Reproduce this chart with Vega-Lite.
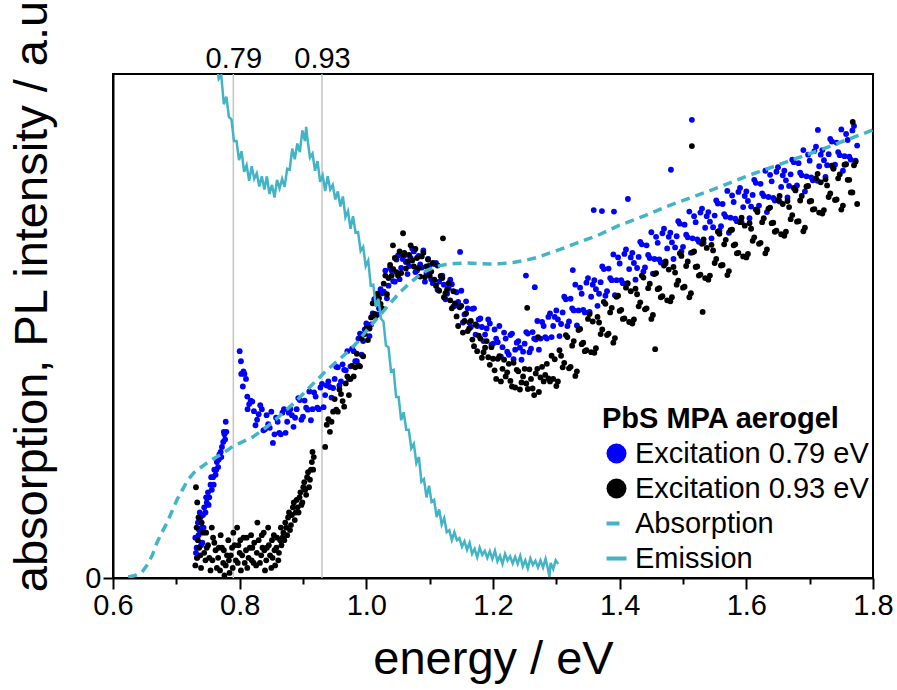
{
"$schema": "https://vega.github.io/schema/vega-lite/v6.json",
"width": 760, "height": 504,
"autosize": "none",
"padding": {"left": 113, "top": 74, "right": 24, "bottom": 112},
"background": "white",
"config": {"font": "Liberation Sans", "view": {"stroke": "black", "strokeWidth": 2}},
"datasets": {
"marks": [{"e": 0.79}, {"e": 0.93}],
"blue": [
{"e":0.730,"v":0.08},{"e":0.731,"v":0.05},{"e":0.732,"v":0.06},{"e":0.733,"v":0.04},{"e":0.734,"v":0.11},{"e":0.735,"v":0.085},{"e":0.736,"v":0.095},{"e":0.737,"v":0.13},{"e":0.738,"v":0.12},{"e":0.739,"v":0.065},{"e":0.740,"v":0.10},{"e":0.741,"v":0.07},{"e":0.742,"v":0.125},{"e":0.743,"v":0.1},{"e":0.744,"v":0.14},{"e":0.746,"v":0.13},{"e":0.747,"v":0.16},{"e":0.748,"v":0.15},{"e":0.750,"v":0.17},{"e":0.751,"v":0.145},{"e":0.752,"v":0.16},{"e":0.754,"v":0.185},{"e":0.755,"v":0.2},{"e":0.756,"v":0.175},{"e":0.758,"v":0.2},{"e":0.759,"v":0.185},{"e":0.760,"v":0.215},{"e":0.762,"v":0.205},{"e":0.763,"v":0.215},{"e":0.764,"v":0.23},{"e":0.766,"v":0.22},{"e":0.767,"v":0.235},{"e":0.768,"v":0.245},{"e":0.770,"v":0.25},{"e":0.771,"v":0.24},{"e":0.772,"v":0.26},{"e":0.774,"v":0.27},{"e":0.775,"v":0.29},{"e":0.776,"v":0.285},{"e":0.777,"v":0.275},{"e":0.778,"v":0.31},{"e":0.779,"v":0.29},
{"e":0.800,"v":0.45},{"e":0.802,"v":0.43},{"e":0.8025,"v":0.405},{"e":0.805,"v":0.38},{"e":0.806,"v":0.41},{"e":0.8075,"v":0.405},{"e":0.810,"v":0.395},{"e":0.812,"v":0.36},{"e":0.8125,"v":0.335},{"e":0.815,"v":0.345},{"e":0.8175,"v":0.352},{"e":0.820,"v":0.35},{"e":0.8225,"v":0.331},{"e":0.825,"v":0.303},{"e":0.8275,"v":0.314},{"e":0.830,"v":0.325},{"e":0.8325,"v":0.343},{"e":0.835,"v":0.335},{"e":0.8375,"v":0.293},{"e":0.840,"v":0.295},{"e":0.8425,"v":0.323},{"e":0.845,"v":0.305},{"e":0.8475,"v":0.298},{"e":0.850,"v":0.33},{"e":0.8525,"v":0.268},{"e":0.855,"v":0.285},{"e":0.8575,"v":0.318},{"e":0.860,"v":0.31},{"e":0.8625,"v":0.288},{"e":0.865,"v":0.285},{"e":0.8675,"v":0.328},{"e":0.870,"v":0.335},{"e":0.8725,"v":0.288},{"e":0.875,"v":0.31},{"e":0.8775,"v":0.328},{"e":0.880,"v":0.335},{"e":0.8825,"v":0.323},{"e":0.885,"v":0.30},{"e":0.8875,"v":0.318},{"e":0.890,"v":0.335},{"e":0.8925,"v":0.357},{"e":0.895,"v":0.353},{"e":0.8975,"v":0.314},{"e":0.900,"v":0.32},{"e":0.9025,"v":0.352},{"e":0.905,"v":0.338},{"e":0.9075,"v":0.334},{"e":0.910,"v":0.37},{"e":0.9125,"v":0.313},{"e":0.915,"v":0.335},{"e":0.9175,"v":0.368},{"e":0.920,"v":0.36},{"e":0.9225,"v":0.338},{"e":0.925,"v":0.335},{"e":0.9275,"v":0.378},{"e":0.930,"v":0.385},{"e":0.9325,"v":0.339},{"e":0.935,"v":0.363},{"e":0.9375,"v":0.382},{"e":0.940,"v":0.39},{"e":0.9425,"v":0.379},{"e":0.945,"v":0.358},{"e":0.9475,"v":0.377},{"e":0.950,"v":0.395},{"e":0.9525,"v":0.419},{"e":0.955,"v":0.418},{"e":0.9575,"v":0.382},{"e":0.960,"v":0.39},{"e":0.9625,"v":0.424},{"e":0.965,"v":0.413},{"e":0.9675,"v":0.412},{"e":0.970,"v":0.45},{"e":0.9725,"v":0.395},{"e":0.975,"v":0.42},{"e":0.9775,"v":0.455},{"e":0.980,"v":0.45},{"e":0.9825,"v":0.43},{"e":0.985,"v":0.43},{"e":0.9875,"v":0.475},{"e":0.990,"v":0.485},{"e":0.9925,"v":0.443},{"e":0.995,"v":0.47},{"e":0.9975,"v":0.493},
{"e":1.000,"v":0.505},{"e":1.0025,"v":0.498},{"e":1.005,"v":0.48},{"e":1.0075,"v":0.503},{"e":1.010,"v":0.525},{"e":1.0125,"v":0.553},{"e":1.015,"v":0.555},{"e":1.0175,"v":0.523},{"e":1.020,"v":0.535},{"e":1.0225,"v":0.573},{"e":1.025,"v":0.565},{"e":1.0275,"v":0.568},{"e":1.030,"v":0.61},{"e":1.0325,"v":0.555},{"e":1.035,"v":0.58},{"e":1.0375,"v":0.615},{"e":1.040,"v":0.61},{"e":1.0425,"v":0.589},{"e":1.045,"v":0.588},{"e":1.0475,"v":0.632},{"e":1.050,"v":0.64},{"e":1.0525,"v":0.593},{"e":1.055,"v":0.615},{"e":1.0575,"v":0.633},{"e":1.060,"v":0.64},{"e":1.0625,"v":0.627},{"e":1.065,"v":0.603},{"e":1.0675,"v":0.619},{"e":1.070,"v":0.635},{"e":1.0725,"v":0.654},{"e":1.075,"v":0.648},{"e":1.0775,"v":0.607},{"e":1.080,"v":0.61},{"e":1.0825,"v":0.639},{"e":1.085,"v":0.622},{"e":1.0875,"v":0.616},{"e":1.090,"v":0.65},{"e":1.0925,"v":0.588},{"e":1.095,"v":0.605},{"e":1.0975,"v":0.633},{"e":1.100,"v":0.62},{"e":1.1025,"v":0.593},{"e":1.105,"v":0.585},{"e":1.1075,"v":0.623},{"e":1.110,"v":0.625},{"e":1.1125,"v":0.572},{"e":1.115,"v":0.588},{"e":1.1175,"v":0.599},{"e":1.120,"v":0.60},{"e":1.1225,"v":0.582},{"e":1.125,"v":0.553},{"e":1.1275,"v":0.564},{"e":1.130,"v":0.575},{"e":1.1325,"v":0.592},{"e":1.135,"v":0.583},{"e":1.1375,"v":0.539},{"e":1.140,"v":0.54},{"e":1.1425,"v":0.567},{"e":1.145,"v":0.548},{"e":1.1475,"v":0.539},{"e":1.148,"v":0.647},{"e":1.150,"v":0.57},{"e":1.1525,"v":0.507},{"e":1.155,"v":0.523},{"e":1.1575,"v":0.549},{"e":1.160,"v":0.535},{"e":1.1625,"v":0.507},{"e":1.165,"v":0.498},{"e":1.1675,"v":0.534},{"e":1.170,"v":0.535},{"e":1.1725,"v":0.483},{"e":1.175,"v":0.50},{"e":1.1775,"v":0.513},{"e":1.180,"v":0.515},{"e":1.1825,"v":0.498},{"e":1.185,"v":0.47},{"e":1.1875,"v":0.483},{"e":1.190,"v":0.495},{"e":1.1925,"v":0.513},{"e":1.195,"v":0.505},{"e":1.1975,"v":0.463},
{"e":1.200,"v":0.465},{"e":1.2025,"v":0.493},{"e":1.205,"v":0.475},{"e":1.2075,"v":0.468},{"e":1.210,"v":0.50},{"e":1.2125,"v":0.439},{"e":1.215,"v":0.458},{"e":1.2175,"v":0.487},{"e":1.220,"v":0.475},{"e":1.2225,"v":0.449},{"e":1.225,"v":0.443},{"e":1.2275,"v":0.482},{"e":1.230,"v":0.485},{"e":1.2325,"v":0.434},{"e":1.235,"v":0.453},{"e":1.2375,"v":0.467},{"e":1.240,"v":0.47},{"e":1.2425,"v":0.457},{"e":1.245,"v":0.433},{"e":1.2475,"v":0.449},{"e":1.250,"v":0.465},{"e":1.252,"v":0.60},{"e":1.2525,"v":0.488},{"e":1.255,"v":0.485},{"e":1.2575,"v":0.448},{"e":1.260,"v":0.455},{"e":1.2625,"v":0.488},{"e":1.265,"v":0.475},{"e":1.266,"v":0.577},{"e":1.2675,"v":0.473},{"e":1.270,"v":0.51},{"e":1.2725,"v":0.453},{"e":1.275,"v":0.475},{"e":1.2775,"v":0.508},{"e":1.280,"v":0.50},{"e":1.2825,"v":0.478},{"e":1.285,"v":0.475},{"e":1.2875,"v":0.518},{"e":1.290,"v":0.525},{"e":1.2925,"v":0.478},{"e":1.295,"v":0.50},{"e":1.2975,"v":0.518},
{"e":1.300,"v":0.531},{"e":1.3025,"v":0.513},{"e":1.305,"v":0.48},{"e":1.3075,"v":0.504},{"e":1.310,"v":0.527},{"e":1.3125,"v":0.558},{"e":1.315,"v":0.553},{"e":1.3175,"v":0.50},{"e":1.320,"v":0.509},{"e":1.3225,"v":0.554},{"e":1.325,"v":0.535},{"e":1.326,"v":0.611},{"e":1.3275,"v":0.531},{"e":1.330,"v":0.582},{"e":1.3325,"v":0.501},{"e":1.335,"v":0.531},{"e":1.3375,"v":0.576},{"e":1.340,"v":0.564},{"e":1.3425,"v":0.532},{"e":1.345,"v":0.527},{"e":1.3475,"v":0.586},{"e":1.350,"v":0.595},{"e":1.3525,"v":0.528},{"e":1.355,"v":0.558},{"e":1.3575,"v":0.582},{"e":1.359,"v":0.73},{"e":1.360,"v":0.591},{"e":1.3625,"v":0.573},{"e":1.365,"v":0.54},{"e":1.3675,"v":0.564},{"e":1.370,"v":0.587},{"e":1.372,"v":0.728},{"e":1.3725,"v":0.618},{"e":1.375,"v":0.613},{"e":1.3775,"v":0.56},{"e":1.380,"v":0.569},{"e":1.3825,"v":0.614},{"e":1.385,"v":0.595},{"e":1.3875,"v":0.591},{"e":1.390,"v":0.642},{"e":1.391,"v":0.727},{"e":1.3925,"v":0.561},{"e":1.395,"v":0.591},{"e":1.3975,"v":0.636},
{"e":1.400,"v":0.624},{"e":1.4025,"v":0.591},{"e":1.405,"v":0.585},{"e":1.4075,"v":0.643},{"e":1.410,"v":0.652},{"e":1.4125,"v":0.584},{"e":1.413,"v":0.752},{"e":1.415,"v":0.613},{"e":1.4175,"v":0.636},{"e":1.420,"v":0.645},{"e":1.4225,"v":0.625},{"e":1.425,"v":0.592},{"e":1.4275,"v":0.615},{"e":1.430,"v":0.637},{"e":1.4325,"v":0.667},{"e":1.435,"v":0.662},{"e":1.4375,"v":0.608},{"e":1.440,"v":0.616},{"e":1.4425,"v":0.66},{"e":1.445,"v":0.641},{"e":1.4475,"v":0.635},{"e":1.450,"v":0.686},{"e":1.4525,"v":0.604},{"e":1.455,"v":0.633},{"e":1.4575,"v":0.677},{"e":1.460,"v":0.665},{"e":1.4625,"v":0.632},{"e":1.465,"v":0.626},{"e":1.4675,"v":0.684},{"e":1.470,"v":0.693},{"e":1.4725,"v":0.624},{"e":1.475,"v":0.654},{"e":1.4775,"v":0.677},{"e":1.480,"v":0.685},{"e":1.481,"v":0.81},{"e":1.4825,"v":0.666},{"e":1.485,"v":0.633},{"e":1.4875,"v":0.656},{"e":1.490,"v":0.678},{"e":1.4925,"v":0.708},{"e":1.495,"v":0.703},{"e":1.4975,"v":0.648},
{"e":1.500,"v":0.657},{"e":1.5025,"v":0.701},{"e":1.505,"v":0.681},{"e":1.5075,"v":0.676},{"e":1.510,"v":0.727},{"e":1.5125,"v":0.645},{"e":1.514,"v":0.909},{"e":1.515,"v":0.674},{"e":1.5175,"v":0.718},{"e":1.520,"v":0.706},{"e":1.5225,"v":0.672},{"e":1.525,"v":0.667},{"e":1.5275,"v":0.725},{"e":1.530,"v":0.733},{"e":1.5325,"v":0.665},{"e":1.535,"v":0.695},{"e":1.5375,"v":0.718},{"e":1.540,"v":0.726},{"e":1.5425,"v":0.707},{"e":1.545,"v":0.674},{"e":1.5475,"v":0.696},{"e":1.550,"v":0.719},{"e":1.5525,"v":0.749},{"e":1.555,"v":0.743},{"e":1.5575,"v":0.689},{"e":1.560,"v":0.698},{"e":1.5625,"v":0.742},{"e":1.565,"v":0.722},{"e":1.5675,"v":0.717},{"e":1.570,"v":0.768},{"e":1.5725,"v":0.685},{"e":1.575,"v":0.715},{"e":1.5775,"v":0.759},{"e":1.580,"v":0.746},{"e":1.5825,"v":0.713},{"e":1.585,"v":0.708},{"e":1.5875,"v":0.766},{"e":1.590,"v":0.774},{"e":1.5925,"v":0.706},{"e":1.595,"v":0.736},{"e":1.5975,"v":0.758},
{"e":1.600,"v":0.767},{"e":1.6025,"v":0.748},{"e":1.605,"v":0.714},{"e":1.6075,"v":0.737},{"e":1.610,"v":0.76},{"e":1.6125,"v":0.79},{"e":1.615,"v":0.784},{"e":1.6175,"v":0.73},{"e":1.620,"v":0.739},{"e":1.6225,"v":0.782},{"e":1.625,"v":0.763},{"e":1.6275,"v":0.758},{"e":1.630,"v":0.808},{"e":1.6325,"v":0.726},{"e":1.635,"v":0.756},{"e":1.6375,"v":0.80},{"e":1.640,"v":0.787},{"e":1.6425,"v":0.754},{"e":1.645,"v":0.749},{"e":1.6475,"v":0.806},{"e":1.650,"v":0.815},{"e":1.6525,"v":0.747},{"e":1.655,"v":0.776},{"e":1.6575,"v":0.799},{"e":1.660,"v":0.808},{"e":1.6625,"v":0.789},{"e":1.665,"v":0.755},{"e":1.6675,"v":0.778},{"e":1.670,"v":0.801},{"e":1.6725,"v":0.83},{"e":1.675,"v":0.825},{"e":1.6775,"v":0.771},{"e":1.680,"v":0.779},{"e":1.6825,"v":0.823},{"e":1.685,"v":0.804},{"e":1.6875,"v":0.799},{"e":1.690,"v":0.849},{"e":1.6925,"v":0.767},{"e":1.695,"v":0.797},{"e":1.6975,"v":0.84},
{"e":1.700,"v":0.828},{"e":1.7025,"v":0.795},{"e":1.705,"v":0.789},{"e":1.7075,"v":0.847},{"e":1.710,"v":0.856},{"e":1.7125,"v":0.788},{"e":1.713,"v":0.889},{"e":1.715,"v":0.817},{"e":1.7175,"v":0.84},{"e":1.720,"v":0.849},{"e":1.7225,"v":0.829},{"e":1.725,"v":0.796},{"e":1.7275,"v":0.819},{"e":1.730,"v":0.841},{"e":1.7325,"v":0.871},{"e":1.735,"v":0.866},{"e":1.7375,"v":0.812},{"e":1.740,"v":0.82},{"e":1.7425,"v":0.864},{"e":1.745,"v":0.845},{"e":1.7475,"v":0.839},{"e":1.750,"v":0.89},{"e":1.7525,"v":0.808},{"e":1.755,"v":0.837},{"e":1.7575,"v":0.881},{"e":1.760,"v":0.869},{"e":1.7625,"v":0.836},{"e":1.765,"v":0.83},{"e":1.7675,"v":0.888},{"e":1.770,"v":0.897},{"e":1.7725,"v":0.828},{"e":1.775,"v":0.858}
],
"black": [
{"e":0.730,"v":0.025},{"e":0.731,"v":0.18},{"e":0.732,"v":0.10},{"e":0.7325,"v":0.04},{"e":0.733,"v":0.15},{"e":0.734,"v":0.075},{"e":0.735,"v":0.12},{"e":0.736,"v":0.06},{"e":0.738,"v":0.045},{"e":0.739,"v":0.02},{"e":0.740,"v":0.11},{"e":0.742,"v":0.09},{"e":0.744,"v":0.05},{"e":0.746,"v":0.035},{"e":0.747,"v":0.09},{"e":0.748,"v":0.06},{"e":0.750,"v":0.065},{"e":0.752,"v":0.04},{"e":0.754,"v":0.015},{"e":0.756,"v":0.10},{"e":0.757,"v":0.035},{"e":0.758,"v":0.08},{"e":0.760,"v":0.07},{"e":0.762,"v":0.055},{"e":0.764,"v":0.02},{"e":0.766,"v":0.04},{"e":0.767,"v":0.06},{"e":0.769,"v":0.015},{"e":0.770,"v":0.085},{"e":0.772,"v":0.06},{"e":0.774,"v":0.03},{"e":0.775,"v":0.055},{"e":0.776,"v":0.005},{"e":0.778,"v":0.025},{"e":0.780,"v":0.045},{"e":0.782,"v":0.075},{"e":0.783,"v":0.035},{"e":0.784,"v":0.01},{"e":0.786,"v":0.045},{"e":0.788,"v":0.06},{"e":0.789,"v":0.02},{"e":0.790,"v":0.09},{"e":0.792,"v":0.065},{"e":0.794,"v":0.035},{"e":0.796,"v":0.10},{"e":0.797,"v":0.03},{"e":0.798,"v":0.065},{"e":0.800,"v":0.05},{"e":0.801,"v":0.075},{"e":0.802,"v":0.015},{"e":0.804,"v":0.045},{"e":0.806,"v":0.08},{"e":0.808,"v":0.03},{"e":0.810,"v":0.055},{"e":0.811,"v":0.08},{"e":0.812,"v":0.02},{"e":0.814,"v":0.04},{"e":0.816,"v":0.06},{"e":0.818,"v":0.085},{"e":0.819,"v":0.035},{"e":0.820,"v":0.06},{"e":0.822,"v":0.03},{"e":0.823,"v":0.07},{"e":0.826,"v":0.025},{"e":0.827,"v":0.05},{"e":0.828,"v":0.11},{"e":0.830,"v":0.075},{"e":0.832,"v":0.03},{"e":0.834,"v":0.045},{"e":0.835,"v":0.085},{"e":0.836,"v":0.06},{"e":0.838,"v":0.09},{"e":0.839,"v":0.055},{"e":0.840,"v":0.015},{"e":0.842,"v":0.035},{"e":0.843,"v":0.06},{"e":0.845,"v":0.10},{"e":0.846,"v":0.065},{"e":0.848,"v":0.045},{"e":0.850,"v":0.02},{"e":0.851,"v":0.075},{"e":0.852,"v":0.04},{"e":0.854,"v":0.085},{"e":0.855,"v":0.055},{"e":0.856,"v":0.025},{"e":0.858,"v":0.06},{"e":0.859,"v":0.08},{"e":0.861,"v":0.035},{"e":0.862,"v":0.05},{"e":0.864,"v":0.075},
{"e":0.865,"v":0.10},{"e":0.866,"v":0.065},{"e":0.8675,"v":0.08},{"e":0.869,"v":0.09},{"e":0.8705,"v":0.075},{"e":0.872,"v":0.11},{"e":0.8735,"v":0.10},{"e":0.875,"v":0.085},{"e":0.8765,"v":0.12},{"e":0.878,"v":0.13},{"e":0.8795,"v":0.095},{"e":0.881,"v":0.105},{"e":0.8825,"v":0.125},{"e":0.884,"v":0.14},{"e":0.8855,"v":0.15},{"e":0.887,"v":0.115},{"e":0.8885,"v":0.13},{"e":0.890,"v":0.155},{"e":0.8915,"v":0.14},{"e":0.893,"v":0.13},{"e":0.8945,"v":0.16},{"e":0.896,"v":0.17},{"e":0.8975,"v":0.145},{"e":0.899,"v":0.15},{"e":0.9005,"v":0.18},{"e":0.902,"v":0.19},{"e":0.9035,"v":0.175},{"e":0.905,"v":0.165},{"e":0.9065,"v":0.2},{"e":0.908,"v":0.21},{"e":0.9095,"v":0.18},{"e":0.911,"v":0.195},{"e":0.9125,"v":0.215},{"e":0.914,"v":0.23},{"e":0.915,"v":0.25},{"e":0.916,"v":0.215},{"e":0.917,"v":0.24},
{"e":0.935,"v":0.26},{"e":0.9375,"v":0.304},{"e":0.940,"v":0.315},{"e":0.9425,"v":0.29},{"e":0.945,"v":0.31},{"e":0.9475,"v":0.33},{"e":0.950,"v":0.355},{"e":0.9525,"v":0.334},{"e":0.955,"v":0.33},{"e":0.9575,"v":0.374},{"e":0.960,"v":0.365},{"e":0.9625,"v":0.351},{"e":0.965,"v":0.34},{"e":0.9675,"v":0.386},{"e":0.970,"v":0.40},{"e":0.9725,"v":0.363},{"e":0.975,"v":0.395},{"e":0.9775,"v":0.421},{"e":0.980,"v":0.40},{"e":0.9825,"v":0.418},{"e":0.985,"v":0.445},{"e":0.9875,"v":0.422},{"e":0.990,"v":0.42},{"e":0.9925,"v":0.475},{"e":0.995,"v":0.44},{"e":0.9975,"v":0.484},
{"e":1.000,"v":0.495},{"e":1.0025,"v":0.472},{"e":1.005,"v":0.495},{"e":1.0075,"v":0.517},{"e":1.010,"v":0.545},{"e":1.0125,"v":0.524},{"e":1.015,"v":0.52},{"e":1.0175,"v":0.564},{"e":1.020,"v":0.555},{"e":1.0225,"v":0.544},{"e":1.025,"v":0.535},{"e":1.0275,"v":0.584},{"e":1.030,"v":0.60},{"e":1.0325,"v":0.563},{"e":1.035,"v":0.595},{"e":1.0375,"v":0.621},{"e":1.040,"v":0.60},{"e":1.042,"v":0.66},{"e":1.0425,"v":0.613},{"e":1.045,"v":0.635},{"e":1.0475,"v":0.607},{"e":1.050,"v":0.60},{"e":1.0525,"v":0.648},{"e":1.055,"v":0.605},{"e":1.0575,"v":0.642},{"e":1.058,"v":0.684},{"e":1.060,"v":0.645},{"e":1.0625,"v":0.614},{"e":1.065,"v":0.628},{"e":1.0675,"v":0.641},{"e":1.070,"v":0.66},{"e":1.0725,"v":0.63},{"e":1.075,"v":0.618},{"e":1.0775,"v":0.653},{"e":1.080,"v":0.635},{"e":1.0825,"v":0.615},{"e":1.085,"v":0.598},{"e":1.0875,"v":0.638},{"e":1.090,"v":0.645},{"e":1.0925,"v":0.597},{"e":1.095,"v":0.618},{"e":1.0975,"v":0.632},{"e":1.100,"v":0.60},{"e":1.1025,"v":0.608},{"e":1.105,"v":0.625},{"e":1.1075,"v":0.592},{"e":1.110,"v":0.58},{"e":1.1125,"v":0.62},{"e":1.115,"v":0.57},{"e":1.1175,"v":0.599},{"e":1.120,"v":0.595},{"e":1.121,"v":0.674},{"e":1.1225,"v":0.557},{"e":1.125,"v":0.565},{"e":1.1275,"v":0.572},{"e":1.130,"v":0.585},{"e":1.1325,"v":0.551},{"e":1.135,"v":0.535},{"e":1.1375,"v":0.569},{"e":1.140,"v":0.545},{"e":1.1425,"v":0.519},{"e":1.145,"v":0.50},{"e":1.1475,"v":0.537},{"e":1.150,"v":0.54},{"e":1.1525,"v":0.487},{"e":1.155,"v":0.51},{"e":1.1575,"v":0.525},{"e":1.160,"v":0.49},{"e":1.1625,"v":0.495},{"e":1.165,"v":0.51},{"e":1.1675,"v":0.473},{"e":1.170,"v":0.46},{"e":1.1725,"v":0.503},{"e":1.175,"v":0.45},{"e":1.1775,"v":0.481},{"e":1.180,"v":0.475},{"e":1.1825,"v":0.437},{"e":1.185,"v":0.448},{"e":1.1875,"v":0.457},{"e":1.190,"v":0.47},{"e":1.1925,"v":0.438},{"e":1.195,"v":0.423},{"e":1.1975,"v":0.458},
{"e":1.200,"v":0.435},{"e":1.2025,"v":0.412},{"e":1.205,"v":0.395},{"e":1.2075,"v":0.435},{"e":1.210,"v":0.44},{"e":1.2125,"v":0.39},{"e":1.215,"v":0.415},{"e":1.2175,"v":0.433},{"e":1.220,"v":0.40},{"e":1.2225,"v":0.408},{"e":1.225,"v":0.425},{"e":1.2275,"v":0.391},{"e":1.230,"v":0.38},{"e":1.2325,"v":0.427},{"e":1.235,"v":0.378},{"e":1.2375,"v":0.413},{"e":1.240,"v":0.41},{"e":1.2425,"v":0.374},{"e":1.245,"v":0.388},{"e":1.2475,"v":0.40},{"e":1.250,"v":0.415},{"e":1.2525,"v":0.386},{"e":1.254,"v":0.536},{"e":1.255,"v":0.375},{"e":1.2575,"v":0.414},{"e":1.260,"v":0.395},{"e":1.2625,"v":0.376},{"e":1.265,"v":0.363},{"e":1.2675,"v":0.406},{"e":1.270,"v":0.415},{"e":1.271,"v":0.478},{"e":1.2725,"v":0.369},{"e":1.275,"v":0.398},{"e":1.2775,"v":0.419},{"e":1.280,"v":0.39},{"e":1.2825,"v":0.403},{"e":1.285,"v":0.425},{"e":1.2875,"v":0.396},{"e":1.290,"v":0.39},{"e":1.2925,"v":0.441},{"e":1.295,"v":0.395},{"e":1.2975,"v":0.434},
{"e":1.300,"v":0.381},{"e":1.3025,"v":0.39},{"e":1.305,"v":0.452},{"e":1.3075,"v":0.441},{"e":1.310,"v":0.418},{"e":1.3125,"v":0.427},{"e":1.315,"v":0.482},{"e":1.3175,"v":0.478},{"e":1.320,"v":0.416},{"e":1.3225,"v":0.419},{"e":1.325,"v":0.461},{"e":1.3275,"v":0.47},{"e":1.330,"v":0.401},{"e":1.3325,"v":0.41},{"e":1.335,"v":0.492},{"e":1.3375,"v":0.494},{"e":1.340,"v":0.464},{"e":1.3425,"v":0.467},{"e":1.345,"v":0.45},{"e":1.3475,"v":0.452},{"e":1.350,"v":0.514},{"e":1.3525,"v":0.524},{"e":1.355,"v":0.448},{"e":1.3575,"v":0.509},{"e":1.360,"v":0.447},{"e":1.3625,"v":0.456},{"e":1.365,"v":0.518},{"e":1.3675,"v":0.507},{"e":1.370,"v":0.484},{"e":1.3725,"v":0.493},{"e":1.375,"v":0.548},{"e":1.3775,"v":0.544},{"e":1.380,"v":0.482},{"e":1.3825,"v":0.485},{"e":1.385,"v":0.527},{"e":1.3875,"v":0.536},{"e":1.390,"v":0.467},{"e":1.3925,"v":0.476},{"e":1.395,"v":0.558},{"e":1.3975,"v":0.56},
{"e":1.400,"v":0.53},{"e":1.4025,"v":0.532},{"e":1.405,"v":0.514},{"e":1.4075,"v":0.515},{"e":1.410,"v":0.576},{"e":1.4125,"v":0.585},{"e":1.415,"v":0.508},{"e":1.4175,"v":0.569},{"e":1.420,"v":0.505},{"e":1.4225,"v":0.513},{"e":1.425,"v":0.574},{"e":1.4275,"v":0.563},{"e":1.430,"v":0.539},{"e":1.4325,"v":0.547},{"e":1.435,"v":0.60},{"e":1.4375,"v":0.596},{"e":1.440,"v":0.533},{"e":1.4425,"v":0.535},{"e":1.445,"v":0.575},{"e":1.4475,"v":0.584},{"e":1.450,"v":0.514},{"e":1.4525,"v":0.522},{"e":1.455,"v":0.603},{"e":1.456,"v":0.454},{"e":1.4575,"v":0.605},{"e":1.460,"v":0.573},{"e":1.4625,"v":0.575},{"e":1.465,"v":0.557},{"e":1.4675,"v":0.559},{"e":1.470,"v":0.62},{"e":1.4725,"v":0.628},{"e":1.475,"v":0.551},{"e":1.4775,"v":0.612},{"e":1.480,"v":0.549},{"e":1.4825,"v":0.557},{"e":1.485,"v":0.617},{"e":1.4875,"v":0.606},{"e":1.490,"v":0.582},{"e":1.4925,"v":0.59},{"e":1.495,"v":0.644},{"e":1.4975,"v":0.639},
{"e":1.500,"v":0.576},{"e":1.5025,"v":0.578},{"e":1.505,"v":0.619},{"e":1.5075,"v":0.628},{"e":1.510,"v":0.557},{"e":1.5125,"v":0.565},{"e":1.514,"v":0.857},{"e":1.515,"v":0.646},{"e":1.5175,"v":0.648},{"e":1.520,"v":0.617},{"e":1.5225,"v":0.618},{"e":1.525,"v":0.60},{"e":1.5275,"v":0.602},{"e":1.530,"v":0.663},{"e":1.531,"v":0.528},{"e":1.5325,"v":0.672},{"e":1.535,"v":0.595},{"e":1.5375,"v":0.655},{"e":1.540,"v":0.592},{"e":1.5425,"v":0.60},{"e":1.545,"v":0.661},{"e":1.5475,"v":0.65},{"e":1.550,"v":0.625},{"e":1.5525,"v":0.633},{"e":1.555,"v":0.687},{"e":1.5575,"v":0.683},{"e":1.560,"v":0.62},{"e":1.5625,"v":0.621},{"e":1.565,"v":0.662},{"e":1.5675,"v":0.671},{"e":1.570,"v":0.601},{"e":1.5725,"v":0.609},{"e":1.575,"v":0.69},{"e":1.5775,"v":0.691},{"e":1.580,"v":0.66},{"e":1.5825,"v":0.662},{"e":1.585,"v":0.644},{"e":1.5875,"v":0.645},{"e":1.590,"v":0.706},{"e":1.5925,"v":0.715},{"e":1.595,"v":0.638},{"e":1.5975,"v":0.699},
{"e":1.600,"v":0.636},{"e":1.6025,"v":0.643},{"e":1.605,"v":0.704},{"e":1.6075,"v":0.693},{"e":1.610,"v":0.669},{"e":1.6125,"v":0.676},{"e":1.615,"v":0.731},{"e":1.6175,"v":0.726},{"e":1.620,"v":0.663},{"e":1.6225,"v":0.665},{"e":1.625,"v":0.706},{"e":1.6275,"v":0.714},{"e":1.630,"v":0.644},{"e":1.6325,"v":0.652},{"e":1.635,"v":0.733},{"e":1.6375,"v":0.735},{"e":1.640,"v":0.704},{"e":1.6425,"v":0.705},{"e":1.645,"v":0.687},{"e":1.6475,"v":0.689},{"e":1.650,"v":0.75},{"e":1.6525,"v":0.758},{"e":1.655,"v":0.682},{"e":1.6575,"v":0.742},{"e":1.660,"v":0.679},{"e":1.6625,"v":0.687},{"e":1.665,"v":0.748},{"e":1.6675,"v":0.736},{"e":1.670,"v":0.712},{"e":1.6725,"v":0.72},{"e":1.675,"v":0.774},{"e":1.6775,"v":0.769},{"e":1.680,"v":0.707},{"e":1.6825,"v":0.708},{"e":1.685,"v":0.749},{"e":1.6875,"v":0.758},{"e":1.690,"v":0.688},{"e":1.6925,"v":0.695},{"e":1.695,"v":0.777},{"e":1.6975,"v":0.778},
{"e":1.700,"v":0.747},{"e":1.7025,"v":0.748},{"e":1.705,"v":0.731},{"e":1.7075,"v":0.732},{"e":1.710,"v":0.793},{"e":1.7125,"v":0.802},{"e":1.715,"v":0.725},{"e":1.7175,"v":0.785},{"e":1.720,"v":0.723},{"e":1.7225,"v":0.73},{"e":1.725,"v":0.791},{"e":1.7275,"v":0.779},{"e":1.730,"v":0.756},{"e":1.7325,"v":0.763},{"e":1.735,"v":0.818},{"e":1.7375,"v":0.813},{"e":1.740,"v":0.75},{"e":1.7425,"v":0.751},{"e":1.745,"v":0.793},{"e":1.7475,"v":0.801},{"e":1.750,"v":0.731},{"e":1.7525,"v":0.739},{"e":1.755,"v":0.82},{"e":1.7575,"v":0.821},{"e":1.760,"v":0.79},{"e":1.7625,"v":0.79},{"e":1.765,"v":0.765},{"e":1.7675,"v":0.765},{"e":1.768,"v":0.905},{"e":1.770,"v":0.819},{"e":1.7725,"v":0.826},{"e":1.775,"v":0.742}
],
"abs": [
{"e":0.624,"v":0.002},{"e":0.635,"v":0.005},{"e":0.646,"v":0.012},{"e":0.654,"v":0.026},{"e":0.662,"v":0.045},{"e":0.669,"v":0.069},{"e":0.677,"v":0.09},{"e":0.685,"v":0.109},{"e":0.693,"v":0.132},{"e":0.701,"v":0.155},{"e":0.710,"v":0.176},{"e":0.718,"v":0.194},{"e":0.727,"v":0.208},{"e":0.737,"v":0.218},{"e":0.748,"v":0.228},{"e":0.758,"v":0.236},{"e":0.770,"v":0.245},{"e":0.780,"v":0.253},{"e":0.790,"v":0.262},{"e":0.801,"v":0.268},{"e":0.821,"v":0.28},{"e":0.843,"v":0.30},{"e":0.860,"v":0.318},{"e":0.875,"v":0.335},{"e":0.890,"v":0.352},{"e":0.906,"v":0.373},{"e":0.922,"v":0.393},{"e":0.938,"v":0.413},{"e":0.954,"v":0.43},{"e":0.970,"v":0.448},{"e":0.986,"v":0.468},{"e":1.001,"v":0.492},{"e":1.017,"v":0.515},{"e":1.033,"v":0.538},{"e":1.048,"v":0.56},{"e":1.064,"v":0.58},{"e":1.080,"v":0.597},{"e":1.095,"v":0.61},{"e":1.110,"v":0.618},{"e":1.125,"v":0.622},{"e":1.140,"v":0.624},{"e":1.155,"v":0.625},{"e":1.175,"v":0.624},{"e":1.195,"v":0.623},{"e":1.215,"v":0.624},{"e":1.232,"v":0.626},{"e":1.250,"v":0.63},{"e":1.270,"v":0.636},{"e":1.290,"v":0.645},{"e":1.306,"v":0.652},{"e":1.333,"v":0.665},{"e":1.364,"v":0.679},{"e":1.400,"v":0.70},{"e":1.440,"v":0.719},{"e":1.480,"v":0.74},{"e":1.520,"v":0.758},{"e":1.560,"v":0.777},{"e":1.600,"v":0.797},{"e":1.640,"v":0.815},{"e":1.680,"v":0.833},{"e":1.720,"v":0.851},{"e":1.760,"v":0.87},{"e":1.800,"v":0.889}
],
"em": [
{"e":0.755,"v":1.04},{"e":0.759,"v":1.012},{"e":0.763,"v":1.03},{"e":0.767,"v":0.99},{"e":0.771,"v":0.997},{"e":0.775,"v":0.94},{"e":0.779,"v":0.955},{"e":0.783,"v":0.915},{"e":0.787,"v":0.91},{"e":0.791,"v":0.867},{"e":0.795,"v":0.867},{"e":0.799,"v":0.829},{"e":0.803,"v":0.847},{"e":0.807,"v":0.806},{"e":0.811,"v":0.819},{"e":0.815,"v":0.788},{"e":0.819,"v":0.817},{"e":0.823,"v":0.792},{"e":0.827,"v":0.803},{"e":0.831,"v":0.777},{"e":0.835,"v":0.797},{"e":0.839,"v":0.771},{"e":0.843,"v":0.797},{"e":0.847,"v":0.762},{"e":0.851,"v":0.78},{"e":0.855,"v":0.755},{"e":0.859,"v":0.79},{"e":0.863,"v":0.773},{"e":0.867,"v":0.792},{"e":0.871,"v":0.776},{"e":0.875,"v":0.812},{"e":0.879,"v":0.81},{"e":0.883,"v":0.852},{"e":0.887,"v":0.831},{"e":0.891,"v":0.862},{"e":0.895,"v":0.845},{"e":0.899,"v":0.888},{"e":0.903,"v":0.867},{"e":0.905,"v":0.895},{"e":0.907,"v":0.872},{"e":0.911,"v":0.834},{"e":0.915,"v":0.842},{"e":0.919,"v":0.808},{"e":0.923,"v":0.827},{"e":0.927,"v":0.786},{"e":0.931,"v":0.799},{"e":0.935,"v":0.768},{"e":0.939,"v":0.797},{"e":0.943,"v":0.771},{"e":0.947,"v":0.78},{"e":0.951,"v":0.751},{"e":0.955,"v":0.767},{"e":0.959,"v":0.737},{"e":0.963,"v":0.757},{"e":0.967,"v":0.716},{"e":0.971,"v":0.728},{"e":0.975,"v":0.693},{"e":0.979,"v":0.718},{"e":0.983,"v":0.685},{"e":0.987,"v":0.686},{"e":0.991,"v":0.649},{"e":0.995,"v":0.657},{"e":0.999,"v":0.619},{"e":1.003,"v":0.63},{"e":1.007,"v":0.58},{"e":1.011,"v":0.582},{"e":1.015,"v":0.538},{"e":1.019,"v":0.554},{"e":1.023,"v":0.515},{"e":1.027,"v":0.509},{"e":1.031,"v":0.461},{"e":1.035,"v":0.458},{"e":1.039,"v":0.41},{"e":1.043,"v":0.413},{"e":1.047,"v":0.359},{"e":1.051,"v":0.359},{"e":1.055,"v":0.313},{"e":1.059,"v":0.329},{"e":1.063,"v":0.294},{"e":1.067,"v":0.294},{"e":1.071,"v":0.257},{"e":1.075,"v":0.266},{"e":1.079,"v":0.228},{"e":1.083,"v":0.24},{"e":1.087,"v":0.191},{"e":1.091,"v":0.196},{"e":1.095,"v":0.16},{"e":1.099,"v":0.183},{"e":1.103,"v":0.151},{"e":1.107,"v":0.155},{"e":1.111,"v":0.121},{"e":1.115,"v":0.136},{"e":1.119,"v":0.106},{"e":1.123,"v":0.119},{"e":1.127,"v":0.091},{"e":1.131,"v":0.095},{"e":1.135,"v":0.075},{"e":1.139,"v":0.091},{"e":1.143,"v":0.075},{"e":1.147,"v":0.079},{"e":1.151,"v":0.062},{"e":1.155,"v":0.073},{"e":1.159,"v":0.056},{"e":1.163,"v":0.07},{"e":1.167,"v":0.048},{"e":1.171,"v":0.058},{"e":1.175,"v":0.041},{"e":1.179,"v":0.06},{"e":1.183,"v":0.046},{"e":1.187,"v":0.054},{"e":1.191,"v":0.04},{"e":1.195,"v":0.053},{"e":1.199,"v":0.038},{"e":1.203,"v":0.054},{"e":1.207,"v":0.033},{"e":1.211,"v":0.044},{"e":1.215,"v":0.028},{"e":1.219,"v":0.048},{"e":1.223,"v":0.035},{"e":1.227,"v":0.043},{"e":1.231,"v":0.029},{"e":1.235,"v":0.042},{"e":1.239,"v":0.028},{"e":1.243,"v":0.044},{"e":1.247,"v":0.023},{"e":1.251,"v":0.035},{"e":1.255,"v":0.019},{"e":1.259,"v":0.039},{"e":1.263,"v":0.026},{"e":1.267,"v":0.034},{"e":1.271,"v":0.021},{"e":1.275,"v":0.035},{"e":1.279,"v":0.021},{"e":1.283,"v":0.038},{"e":1.287,"v":0.017},{"e":1.289,"v":0.002},{"e":1.291,"v":0.03},{"e":1.295,"v":0.018},{"e":1.299,"v":0.035},{"e":1.303,"v":0.028}
]
},
"layer": [
{
"data": {"name": "marks"},
"mark": {"type": "rule", "color": "#c4c4c4", "strokeWidth": 1.5},
"encoding": {
"x": {"field": "e", "type": "quantitative", "scale": {"domain": [0.6, 1.8], "nice": false, "zero": false},
"axis": {"orient": "top", "values": [0.79, 0.93], "format": ".2f", "ticks": false, "domain": false, "grid": false, "labelFontSize": 29, "labelColor": "black", "labelPadding": 1, "labelFlush": false, "labelOverlap": false, "title": null}}
}
},
{
"data": {"name": "blue"},
"mark": {"type": "point", "filled": true, "shape": "circle", "size": 34, "opacity": 1},
"encoding": {
"x": {"field": "e", "type": "quantitative", "scale": {"domain": [0.6, 1.8], "nice": false, "zero": false},
"axis": {"orient": "bottom", "values": [0.6, 0.7, 0.8, 0.9, 1.0, 1.1, 1.2, 1.3, 1.4, 1.5, 1.6, 1.7, 1.8],
"labelExpr": "round(datum.value*10) % 2 == 0 ? format(datum.value, '.1f') : ''",
"tickSize": {"condition": {"test": "round(datum.value*10) % 2 == 0", "value": 11}, "value": 6},
"tickWidth": 2, "tickColor": "black", "domainColor": "black", "domainWidth": 2,
"labelFontSize": 29, "labelColor": "black", "labelPadding": 2, "labelFlush": false, "labelOverlap": false, "grid": false,
"title": "energy / eV", "titleFontSize": 47, "titleFontWeight": "normal", "titleColor": "black", "titlePadding": 16}},
"y": {"field": "v", "type": "quantitative", "scale": {"domain": [0, 1], "nice": false, "zero": false},
"axis": {"values": [0], "format": "d", "tickSize": 10, "tickWidth": 2, "tickColor": "black", "domainColor": "black", "domainWidth": 2, "labelFontSize": 29, "labelColor": "black", "labelPadding": 2, "labelFlush": false, "grid": false,
"title": "absorption, PL intensity / a.u", "titleFontSize": 47, "titleFontWeight": "normal", "titleColor": "black", "titlePadding": 28, "titleY": 222}},
"color": {"datum": "Excitation 0.79 eV", "type": "nominal",
"scale": {"domain": ["Excitation 0.79 eV", "Excitation 0.93 eV", "Absorption", "Emission"], "range": ["#0000ff", "#000000", "#42b4c5", "#42b4c5"]},
"legend": {"title": "PbS MPA aerogel", "orient": "bottom-right", "offset": 4, "titleFontSize": 29, "titleFontWeight": "bold", "titleColor": "black", "titlePadding": 5, "titleLimit": 400,
"labelFontSize": 29, "labelColor": "black", "labelLimit": 400, "labelOffset": 4, "symbolSize": 400, "rowPadding": 5, "padding": 0,
"encoding": {"symbols": {
"shape": {"value": {"expr": "datum.value == 'Absorption' || datum.value == 'Emission' ? 'stroke' : 'circle'"}},
"fill": {"value": {"expr": "datum.value == 'Absorption' || datum.value == 'Emission' ? 'transparent' : scale('color', datum.value)"}},
"stroke": {"value": {"expr": "scale('color', datum.value)"}},
"strokeWidth": {"value": {"expr": "datum.value == 'Absorption' || datum.value == 'Emission' ? 4 : 0"}},
"strokeDash": {"value": {"expr": "datum.value == 'Absorption' ? [13, 40] : [1, 0]"}},
"opacity": {"value": 1}}}}}
}
},
{
"data": {"name": "black"},
"mark": {"type": "point", "filled": true, "shape": "circle", "size": 34, "opacity": 1},
"encoding": {
"x": {"field": "e", "type": "quantitative", "axis": null},
"y": {"field": "v", "type": "quantitative"},
"color": {"datum": "Excitation 0.93 eV", "type": "nominal"}
}
},
{
"data": {"name": "em"},
"mark": {"type": "line", "strokeWidth": 2.5, "clip": true},
"encoding": {
"x": {"field": "e", "type": "quantitative", "axis": null},
"y": {"field": "v", "type": "quantitative"},
"color": {"datum": "Emission", "type": "nominal"}
}
},
{
"data": {"name": "abs"},
"mark": {"type": "line", "strokeWidth": 3.5, "strokeDash": [9, 6], "clip": true},
"encoding": {
"x": {"field": "e", "type": "quantitative", "axis": null},
"y": {"field": "v", "type": "quantitative"},
"color": {"datum": "Absorption", "type": "nominal"}
}
}
],
"resolve": {"axis": {"x": "independent"}}
}
